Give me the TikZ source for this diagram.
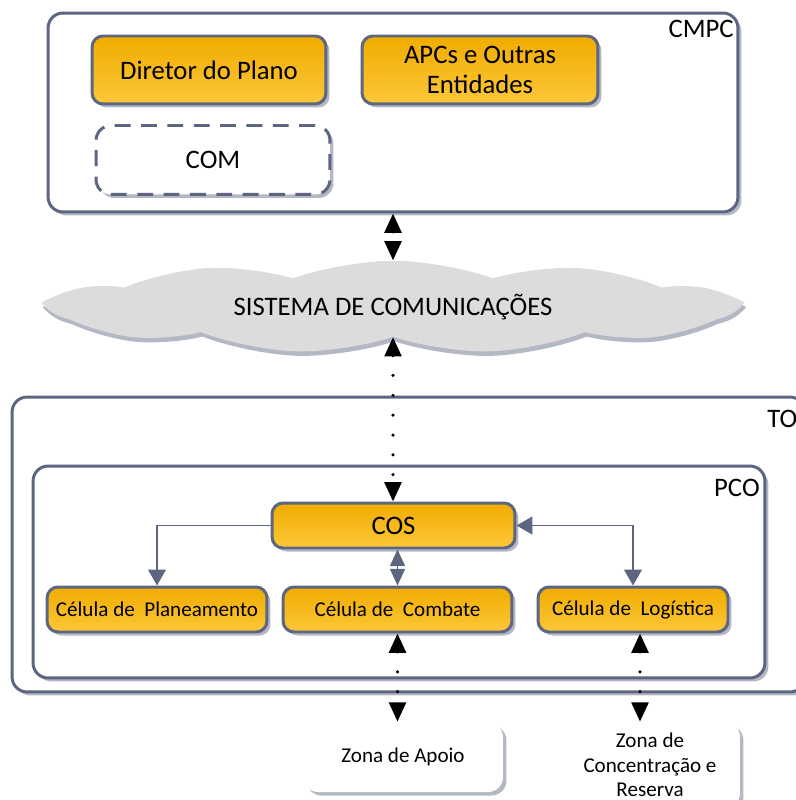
\documentclass[tikz,border=0pt]{standalone}
\usepackage{fontspec}
\setmainfont{Carlito}
\usepackage{tikz}
\usetikzlibrary{arrows.meta}
\usetikzlibrary{shapes.symbols}
\usetikzlibrary{shadows}
\usepackage{xcolor}
\definecolor{boxline}{HTML}{5D6680}
\definecolor{shadowgray}{HTML}{B4B8C4}
\definecolor{orangetop}{HTML}{F0AC00}
\definecolor{orangebot}{HTML}{FDC73A}
\definecolor{cloudgray}{HTML}{DCDCDC}

\begin{document}
\begin{tikzpicture}[x=0.02cm, y=-0.02cm,
  boxshadow/.style={drop shadow={shadow xshift=0.07cm, shadow yshift=-0.07cm, fill=shadowgray, opacity=1}},
  groupbox/.style={draw=boxline, line width=1.7pt, rounded corners=0.3cm, fill=white, boxshadow},
  orangebox/.style={draw=boxline, line width=1.7pt, rounded corners=0.22cm, top color=orangetop, bottom color=orangebot, boxshadow, align=center, inner sep=0pt},
  bigtext/.style={font=\fontsize{15.2}{17.5}\selectfont},
  smalltext/.style={font=\fontsize{12}{14}\selectfont},
  linkarrow/.style={draw=boxline, line width=1.1pt, -{Triangle[width=10pt,length=9pt]}},
  dotarrow/.style={black, line width=2pt, line cap=round, dash pattern=on 0pt off 11.3pt,
    {Triangle[width=9.5pt,length=11pt]}-{Triangle[width=9.5pt,length=11pt]}}]

\useasboundingbox (0,0) rectangle (795,800);

% CMPC
\begin{scope}
{
\node[groupbox, minimum width=13.8cm, minimum height=3.98cm] (cmpc) at (393,112.5) {};
\node[bigtext, anchor=north east, inner sep=0pt] (cmpclab) at (734,20) {CMPC};

\node[orangebox, bigtext, minimum width=4.68cm, minimum height=1.36cm] (diretor) at (209,70) {Diretor do Plano};
\node[orangebox, bigtext, minimum width=4.72cm, minimum height=1.36cm] (apcs) at (480,70) {APCs e Outras\\Entidades};
\node[draw=boxline, line width=1.7pt, dash pattern=on 9pt off 6pt, rounded corners=0.3cm, fill=white, boxshadow,
  bigtext, minimum width=4.68cm, minimum height=1.38cm] (com) at (213,160) {COM};
}
\end{scope}

% cloud
\node[cloud, cloud ignores aspect, cloud puffs=11, cloud puff arc=40, draw=none, fill=cloudgray,
  drop shadow={shadow xshift=0.03cm, shadow yshift=-0.09cm, fill=shadowgray, opacity=1},
  minimum width=13.7cm, minimum height=1.85cm, bigtext] (sis) at (393,307) {SISTEMA DE COMUNICAÇÕES};

% TO and PCO
\begin{scope}
{
\node[groupbox, minimum width=15.86cm, minimum height=5.9cm] (to) at (408.5,544.5) {};
\node[bigtext, anchor=north west, inner sep=0pt] (tolab) at (767,410) {TO};

\node[groupbox, minimum width=14.64cm, minimum height=4.24cm] (pco) at (399,572) {};
\node[bigtext, anchor=north east, inner sep=0pt] (pcolab) at (760,479) {PCO};

\node[orangebox, bigtext, minimum width=4.86cm, minimum height=0.9cm] (cos) at (393.5,525.5) {COS};
\node[orangebox, smalltext, minimum width=4.4cm, minimum height=0.9cm] (plan) at (157,609.5) {Célula de\ \ Planeamento};
\node[orangebox, smalltext, minimum width=4.58cm, minimum height=0.9cm] (comb) at (397.5,609.5) {Célula de\ \ Combate};
\node[orangebox, smalltext, minimum width=3.8cm, minimum height=0.9cm] (log) at (633,609.5) {Célula de\ \ Logística};
}
\end{scope}

% zones
\node[fill=white, rounded corners=0.3cm, boxshadow, smalltext, minimum width=4cm, minimum height=1.4cm] (apoio) at (403,757) {Zona de Apoio};
\node[fill=white, rounded corners=0.3cm, boxshadow, smalltext, align=center, minimum width=3.6cm, minimum height=1.72cm] (reserva) at (650,765) {Zona de\\Concentração e\\Reserva};

% grey arrows
\draw[linkarrow] (cos.west) -| (plan.north);
\draw[linkarrow, {Triangle[width=10pt,length=9pt]}-{Triangle[width=10pt,length=9pt]}] (cos.east) -| (log.north);
\draw[linkarrow, {Triangle[width=8.5pt,length=9.5pt]}-{Triangle[width=8.5pt,length=9.5pt]}] (comb.north |- cos.south) -- (comb.north);

% black lines
\draw[dotarrow] (cmpc.south) -- (sis.north);
\draw[dotarrow] (sis.south) -- (sis.south |- cos.north);
\draw[dotarrow] (comb.south) -- (comb.south |- apoio.north);
\draw[dotarrow] ([xshift=0.14cm]log.south) -- ([xshift=0.14cm]log.south |- reserva.north);

\end{tikzpicture}
\end{document}
